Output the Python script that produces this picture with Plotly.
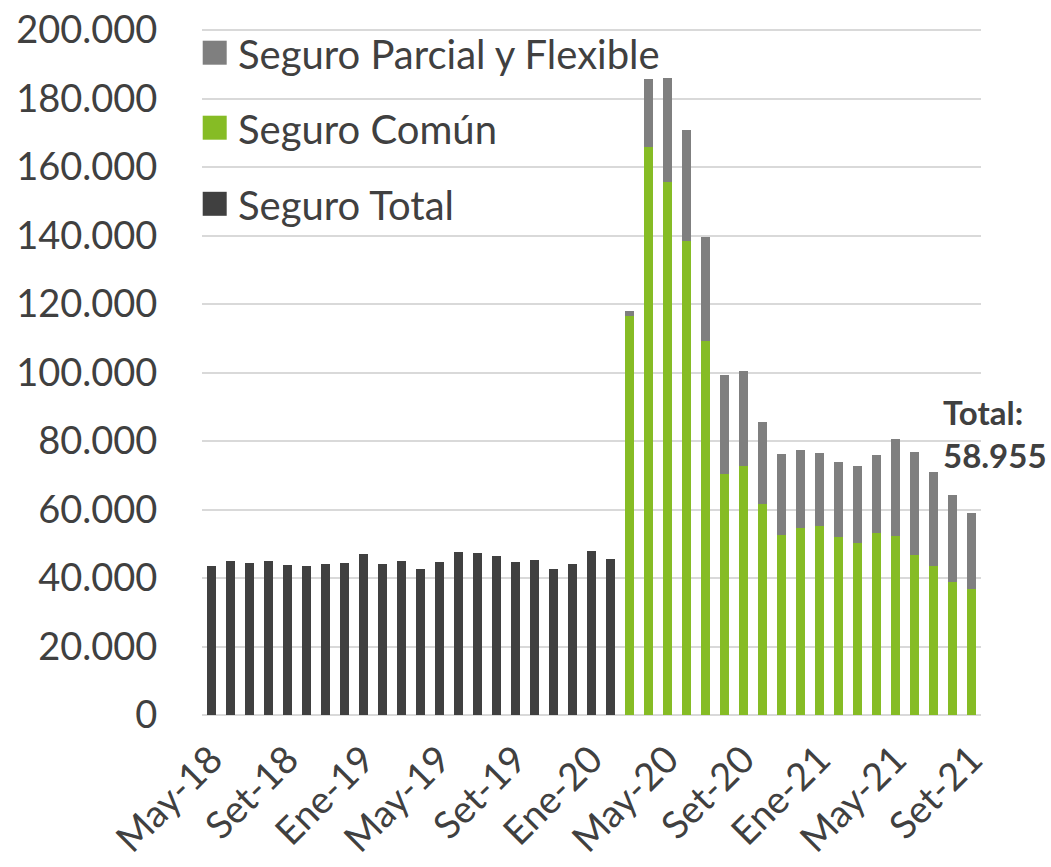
import plotly.graph_objects as go

months = ["May-18", "Jun-18", "Jul-18", "Ago-18", "Set-18", "Oct-18", "Nov-18", "Dic-18",
          "Ene-19", "Feb-19", "Mar-19", "Abr-19", "May-19", "Jun-19", "Jul-19", "Ago-19",
          "Set-19", "Oct-19", "Nov-19", "Dic-19", "Ene-20", "Feb-20", "Mar-20", "Abr-20",
          "May-20", "Jun-20", "Jul-20", "Ago-20", "Set-20", "Oct-20", "Nov-20", "Dic-20",
          "Ene-21", "Feb-21", "Mar-21", "Abr-21", "May-21", "Jun-21", "Jul-21", "Ago-21",
          "Set-21"]

total_months = months[:22]
seguro_total = [43500, 44960, 44470, 44850, 43790, 43400, 43980, 44470, 47090, 44090,
                45050, 42720, 44670, 47590, 47380, 46310, 44670, 45250, 42630, 43980,
                47970, 45640]

covid_months = months[22:]
seguro_comun = [116610, 165980, 155680, 138480, 109200, 70420, 72580, 61500, 52550,
                54590, 55260, 51960, 50300, 53130, 52340, 46710, 43590, 38840, 36800]
seguro_parcial = [1460, 19740, 30330, 32370, 30450, 28870, 27790, 24090, 23620,
                  22740, 21290, 21870, 22280, 22740, 28110, 30040, 27330, 25370, 22155]

tick_months = ["May-18", "Set-18", "Ene-19", "May-19", "Set-19", "Ene-20", "May-20",
               "Set-20", "Ene-21", "May-21", "Set-21"]
y_ticks = [0, 20000, 40000, 60000, 80000, 100000, 120000, 140000, 160000, 180000, 200000]
y_tick_labels = ["0", "20.000", "40.000", "60.000", "80.000", "100.000", "120.000",
                 "140.000", "160.000", "180.000", "200.000"]

series_names = ["Seguro Parcial y Flexible", "Seguro Común", "Seguro Total"]
series_colors = ["#7f7f7f", "#86bc25", "#404040"]

last_total = seguro_comun[-1] + seguro_parcial[-1]
last_total_label = f"{last_total:,}".replace(",", ".")

TXT = "#404040"
FONT = "Lato"

# figure geometry (page body margin removed by post_script)
W, H = 1051, 867
ML, MR, MT, MB = 202, 70, 29, 152
PW, PH = W - ML - MR, H - MT - MB


def paper_x(px):
    return (px - ML) / PW


def paper_y(py):
    return 1 - (py - MT) / PH


fig = go.Figure()
fig.add_trace(go.Bar(x=total_months, y=seguro_total, name=series_names[2],
                     marker=dict(color=series_colors[2], line=dict(width=0)), showlegend=False))
fig.add_trace(go.Bar(x=covid_months, y=seguro_comun, name=series_names[1],
                     marker=dict(color=series_colors[1], line=dict(width=0)), showlegend=False))
fig.add_trace(go.Bar(x=covid_months, y=seguro_parcial, name=series_names[0],
                     marker=dict(color=series_colors[0], line=dict(width=0)), showlegend=False))

# legend (drawn as squares + labels, Excel style)
legend_centers = [52.7, 127.7, 203.8]
for name, color, cy in zip(series_names, series_colors, legend_centers):
    fig.add_shape(type="rect", xref="paper", yref="paper",
                  x0=paper_x(202.7), x1=paper_x(226.7),
                  y0=paper_y(cy + 12), y1=paper_y(cy - 12),
                  fillcolor=color, line=dict(width=0), layer="above")
    fig.add_annotation(x=paper_x(236), y=paper_y(cy + 1), xref="paper", yref="paper",
                       xanchor="left", yanchor="middle", text=name, showarrow=False,
                       font=dict(family=FONT, size=40, color=TXT))

fig.add_annotation(x=38.4, y=82300, xref="x", yref="y", xanchor="left", yanchor="middle",
                   text=f"<b>Total:<br>{last_total_label}</b>", showarrow=False, align="left",
                   font=dict(family=FONT, size=33, color=TXT))

fig.update_layout(
    width=W, height=H,
    barmode="stack", bargap=0.49,
    plot_bgcolor="white", paper_bgcolor="white",
    margin=dict(l=ML, r=MR, t=MT, b=MB, autoexpand=False),
    font=dict(family=FONT, color=TXT, size=36),
    showlegend=False,
    xaxis=dict(type="category", categoryorder="array", categoryarray=months,
               range=[-0.5, len(months) - 0.5], automargin=False,
               tickmode="array", tickvals=tick_months, ticktext=tick_months,
               tickangle=-45, ticks="outside", ticklen=6, tickcolor="rgba(0,0,0,0)",
               tickfont=dict(family=FONT, size=38, color=TXT), ticklabeloverflow="allow",
               showgrid=False, showline=False, zeroline=False),
    yaxis=dict(range=[0, 200300], tickmode="array", tickvals=y_ticks, ticktext=y_tick_labels,
               automargin=False, ticklabeloverflow="allow",
               ticks="outside", ticklen=36, tickcolor="rgba(0,0,0,0)",
               tickfont=dict(family=FONT, size=38, color=TXT),
               showgrid=True, gridcolor="#d9d9d9", gridwidth=1.5,
               zeroline=True, zerolinecolor="#d9d9d9", zerolinewidth=2, showline=False),
)

fig.write_html("out.html", config={"displayModeBar": False},
               post_script="document.body.style.margin='0';document.body.style.overflow='hidden';")
